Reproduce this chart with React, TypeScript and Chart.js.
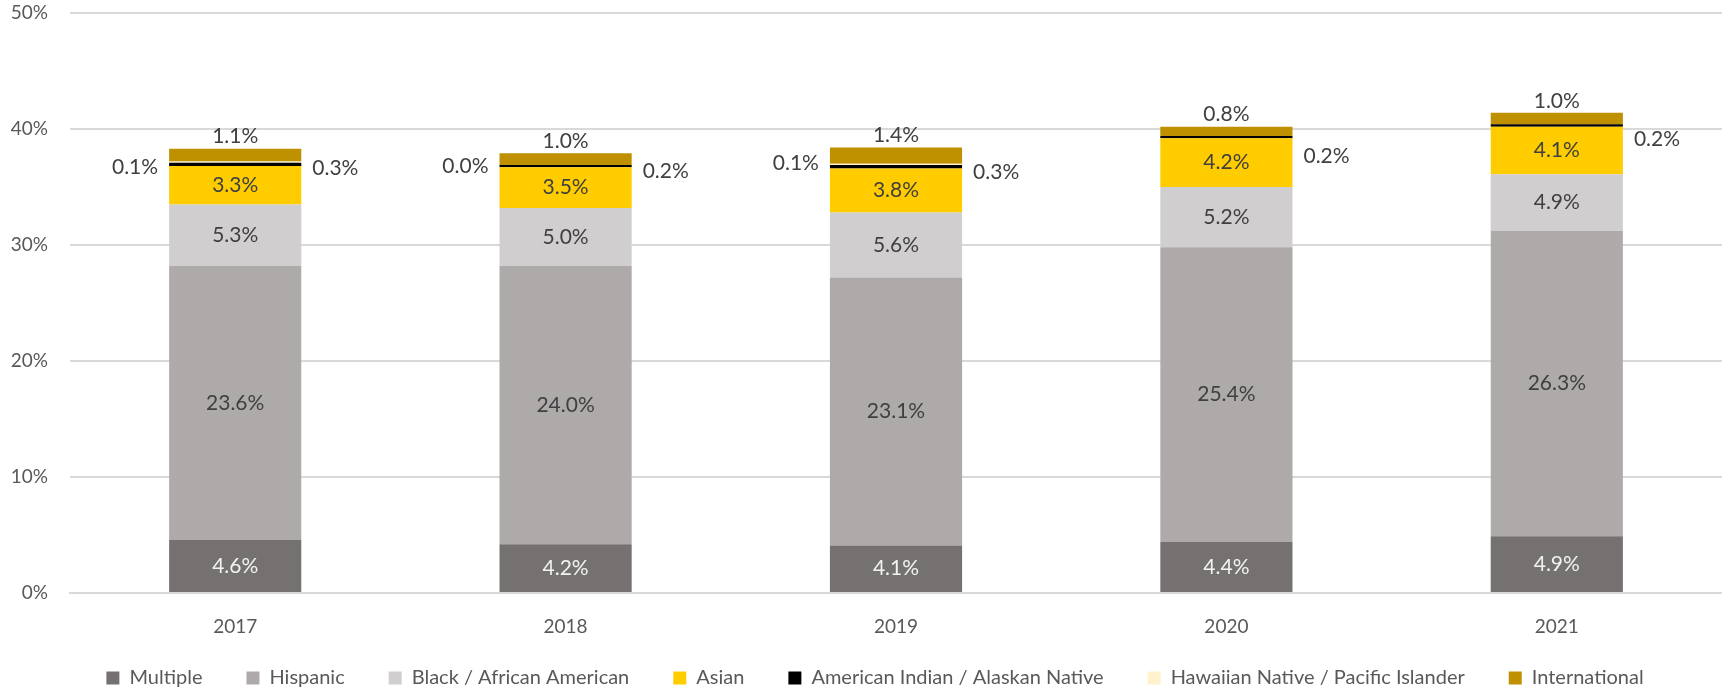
import React, { useEffect, useRef } from "react";
import { Chart, registerables } from "chart.js";

Chart.register(...registerables);

const years = ["2017", "2018", "2019", "2020", "2021"];
const multiple = [4.6, 4.2, 4.1, 4.4, 4.9];
const hispanic = [23.6, 24.0, 23.1, 25.4, 26.3];
const black = [5.3, 5.0, 5.6, 5.2, 4.9];
const asian = [3.3, 3.5, 3.8, 4.2, 4.1];
const amIndian = [0.3, 0.2, 0.3, 0.2, 0.2];
const hawaiian: (number | null)[] = [0.1, 0.0, 0.1, null, null];
const international = [1.1, 1.0, 1.4, 0.8, 1.0];
const yTicks = [0, 10, 20, 30, 40, 50];

const FONT = "Lato, 'Open Sans', sans-serif";
const FS_LABEL = 21;
const FS_TICK = 19;
const FS_LEGEND = 20;
const TEXT = "#595959";
const LABEL = "#404040";
const LEGEND_GAP = 44;
const LEGEND_HEIGHT = 53;
const LEGEND_SHIFT = -14;
const LEGEND_SHIFT_X = 14;
const X_AXIS_HEIGHT = 45;

// label placement per dataset: inside / right / left / top
const labelModes = ["inside", "inside", "inside", "inside", "right", "left", "top"];
const labelColors = ["#F2F2F2", LABEL, LABEL, LABEL, LABEL, LABEL, LABEL];
const rightOffsets = [4, 5, 6, 19, 14];
const leftOffsets = [5, 1, -1, 0, 0];

const labelPlugin = {
  id: "segLabels",
  afterDatasetsDraw(chart: any) {
    const ctx = chart.ctx;
    ctx.save();
    ctx.font = `${FS_LABEL}px ${FONT}`;
    ctx.textBaseline = "middle";
    chart.data.datasets.forEach((ds: any, di: number) => {
      const meta = chart.getDatasetMeta(di);
      const mode = labelModes[di];
      ctx.fillStyle = labelColors[di];
      meta.data.forEach((bar: any, i: number) => {
        const v = ds.data[i];
        if (v === null || v === undefined) return;
        const p = bar.getProps(["x", "y", "base", "width"], true);
        const text = Number(v).toFixed(1) + "%";
        const mid = (p.y + p.base) / 2;
        if (mode === "inside") {
          ctx.textAlign = "center";
          ctx.fillText(text, p.x, mid);
        } else if (mode === "right") {
          ctx.textAlign = "left";
          ctx.fillText(text, p.x + p.width / 2 + 11, mid + rightOffsets[i]);
        } else if (mode === "left") {
          ctx.textAlign = "right";
          ctx.fillText(text, p.x - p.width / 2 - 11, mid + leftOffsets[i]);
        } else {
          ctx.textAlign = "center";
          ctx.fillText(text, p.x, p.y - 12);
        }
      });
    });
    ctx.restore();
  },
};

// compact legend box, drawn slightly higher than its padding would place it
const legendPatch = {
  id: "legendPatch",
  afterInit(chart: any) {
    const lg = chart.legend;
    if (!lg || lg.__patched) return;
    lg.__patched = true;
    const fit = lg.fit.bind(lg);
    lg.fit = function () {
      fit();
      this.height = LEGEND_HEIGHT;
    };
    const draw = lg.draw.bind(lg);
    lg.draw = function () {
      this.top += LEGEND_SHIFT;
      this.left += LEGEND_SHIFT_X;
      this.right += LEGEND_SHIFT_X;
      draw();
      this.top -= LEGEND_SHIFT;
      this.left -= LEGEND_SHIFT_X;
      this.right -= LEGEND_SHIFT_X;
    };
  },
};

export default function App() {
  const ref = useRef<HTMLCanvasElement | null>(null);
  useEffect(() => {
    if (!ref.current) return;
    const mk = (label: string, data: any[], color: string) => ({
      label,
      data,
      backgroundColor: color,
      borderWidth: 0,
      barPercentage: 0.4,
      categoryPercentage: 1.0,
    });
    const chart = new Chart(ref.current, {
      type: "bar",
      data: {
        labels: years,
        datasets: [
          mk("Multiple", multiple, "#767171"),
          mk("Hispanic", hispanic, "#AEAAAA"),
          mk("Black / African American", black, "#D0CECE"),
          mk("Asian", asian, "#FFCC00"),
          mk("American Indian / Alaskan Native", amIndian, "#000000"),
          mk("Hawaiian Native / Pacific Islander", hawaiian, "#FFF2CC"),
          mk("International", international, "#BF9000"),
        ],
      },
      options: {
        responsive: false,
        animation: false,
        devicePixelRatio: 1,
        layout: { padding: { top: 13, left: 0, right: 0, bottom: 0 } },
        plugins: {
          tooltip: { enabled: false },
          legend: {
            position: "bottom",
            labels: {
              boxWidth: 13,
              boxHeight: 13,
              padding: LEGEND_GAP,
              color: TEXT,
              font: { family: FONT, size: FS_LEGEND },
            },
          },
        },
        scales: {
          x: {
            stacked: true,
            grid: { display: false, drawTicks: false },
            border: { display: true, color: "#D9D9D9", width: 2 },
            ticks: { color: TEXT, font: { family: FONT, size: FS_TICK }, padding: 22 },
            afterFit: (s: any) => {
              s.height = X_AXIS_HEIGHT;
            },
          },
          y: {
            stacked: true,
            min: yTicks[0],
            max: yTicks[yTicks.length - 1],
            afterBuildTicks: (scale: any) => {
              scale.ticks = yTicks.map((v) => ({ value: v }));
            },
            afterFit: (s: any) => {
              s.width = 70;
              s.paddingTop = 0;
              s.paddingBottom = 0;
            },
            grid: { color: "#D9D9D9", lineWidth: 2, drawTicks: false },
            border: { display: false },
            ticks: {
              color: TEXT,
              font: { family: FONT, size: FS_TICK },
              padding: 22,
              callback: (v: any) => v + "%",
            },
          },
        },
      },
      plugins: [labelPlugin, legendPatch],
    } as any);
    return () => chart.destroy();
  }, []);
  return (
    <div style={{ position: "absolute", left: 0, top: 0, width: 1722, height: 691, background: "#fff" }}>
      <canvas ref={ref} width={1722} height={691} />
    </div>
  );
}
